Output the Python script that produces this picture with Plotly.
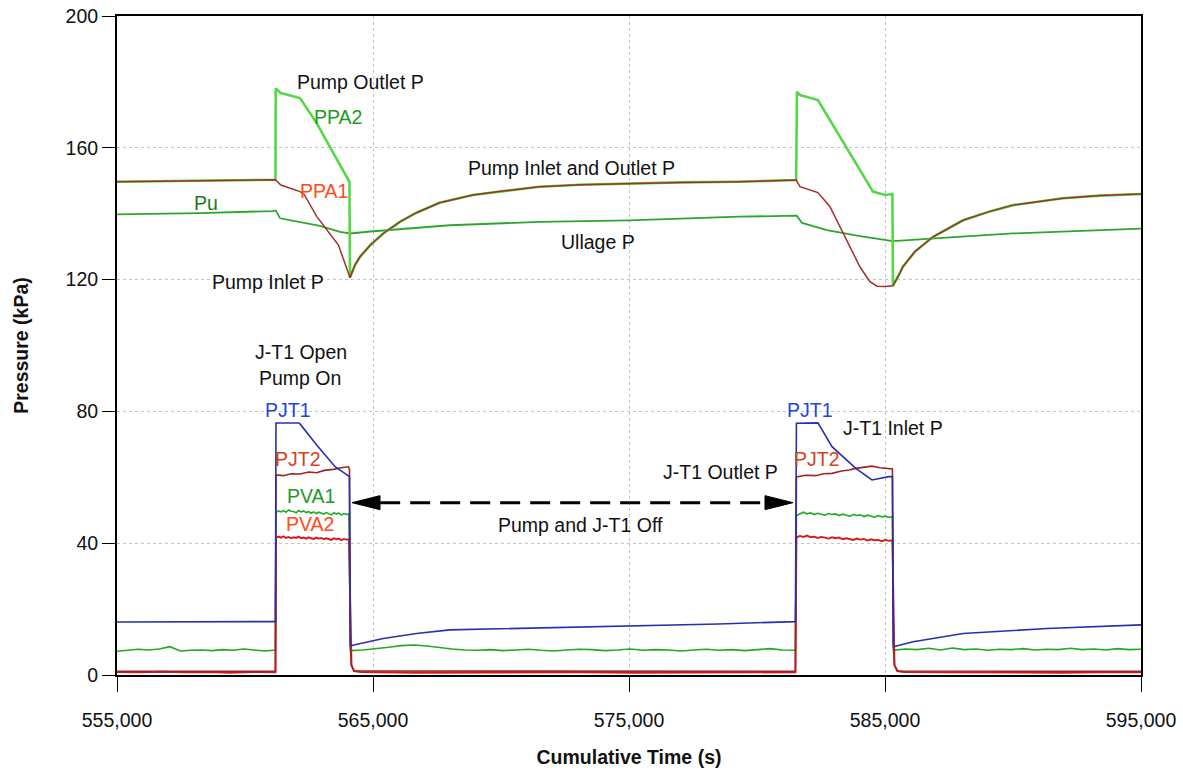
import numpy as np
import plotly.graph_objects as go

# ---------------------------------------------------------------------------
# Pressure records (kPa) against cumulative test time (s)
# ---------------------------------------------------------------------------

# Pump inlet / outlet pressures between pump runs (both gauges read alike)
pre_t = [555000, 557000, 559000, 561190]
pre_p = [149.7, 149.9, 150.1, 150.3]

rec1_t = [564300, 564500, 564900, 565400, 566050, 566700, 567600, 568900,
          570000, 571500, 573100, 574900, 577000, 579300, 581530]
rec1_p = [124.5, 127.0, 130.5, 134.0, 137.5, 140.3, 143.3, 145.7,
          146.8, 148.2, 148.8, 149.2, 149.5, 149.7, 150.2]

rec2_t = [585590, 585700, 586170, 586880, 588050, 589100, 590000, 591950,
          593400, 595000]
rec2_p = [122.0, 123.9, 128.5, 133.0, 138.0, 140.7, 142.6, 144.7,
          145.5, 146.0]

# PPA1 - pump inlet during the two runs
ppa1_run1_t = [561400, 562150, 562300, 562800, 563650, 564000, 564100]
ppa1_run1_p = [148.7, 146.7, 146.0, 139.2, 130.5, 122.9, 120.6]
ppa1_run2_t = [581680, 582380, 582850, 583240, 583630, 584020, 584410,
               584690, 585000, 585310]
ppa1_run2_p = [148.2, 146.4, 142.1, 136.0, 130.0, 123.9, 119.4,
               118.0, 117.9, 118.1]

# PPA2 - pump outlet during the two runs
ppa2_run1_t = [561200, 561400, 562150, 562800, 563300, 564080, 564100]
ppa2_run1_p = [178.0, 176.6, 175.1, 167.5, 160.5, 149.7, 120.6]
ppa2_run2_t = [581560, 581680, 582380, 583240, 584020, 584530, 585000,
               585290, 585310]
ppa2_run2_p = [177.0, 176.0, 174.5, 163.4, 153.3, 146.7, 145.7,
               146.0, 118.1]

# Pu - tank ullage pressure
pu_t = [555000, 558240, 561090, 561200, 561370, 562030, 562930, 563710,
        564100, 564900, 568000, 571500, 575000, 579300, 581550, 581760,
        582730, 584020, 585310, 587540, 590000, 595000]
pu_p = [139.8, 140.2, 140.8, 141.0, 138.6, 137.6, 136.3, 134.5,
        134.0, 134.6, 136.5, 137.5, 138.0, 139.1, 139.4, 137.2,
        135.0, 133.2, 131.7, 132.8, 134.0, 135.5]

# PJT1 - J-T1 inlet pressure
pjt1_t = [555000, 561190, 561210, 562100, 562150, 562800,
          563520, 564040, 564080, 564120, 564250, 565400, 566700, 568000,
          571500, 575000, 578500, 581500, 581540, 582380, 582930, 583860,
          584490, 585150, 585290, 585330, 586100, 588050, 591330, 595000]
pjt1_p = [16.1, 16.2, 76.5, 76.5, 76.2, 69.8,
          63.2, 60.5, 60.2, 8.8, 9.1, 11.1, 12.6, 13.7,
          14.3, 14.8, 15.5, 16.2, 76.4, 76.5, 69.3, 62.7,
          59.2, 60.2, 60.2, 8.6, 10.1, 12.6, 14.1, 15.2]

# PJT2 - J-T1 outlet pressure
pjt2_t = [555000, 561190, 561210, 561500, 561800, 562150, 562500, 562800,
          563100, 563450, 563750, 564040, 564080, 564110, 564150, 564250,
          581500, 581540, 581900, 582300, 582600, 582930, 583300, 583600,
          583860, 584200, 584490, 584800, 585150, 585290, 585320, 585370,
          585500, 595000]
pjt2_p = [1.1, 1.1, 60.7, 60.5, 61.1, 61.0, 61.6, 61.4,
          62.1, 62.4, 62.9, 63.2, 62.5, 10.0, 3.0, 1.2,
          1.1, 60.1, 60.6, 60.5, 61.1, 61.2, 61.9, 62.2,
          62.7, 63.0, 63.4, 62.9, 62.7, 62.5, 10.0, 3.0,
          1.2, 1.1]

# PVA1 - vent line pressure (noisy record)
pva1_pre = [7.2, 7.5, 7.8, 7.6, 7.9, 8.6, 7.3, 7.5, 7.6, 7.4, 7.7, 7.5,
            7.9, 7.6, 7.3, 7.6]
pva1_run1 = [49.3, 49.8, 49.5, 49.9, 49.4, 50.1, 49.7, 49.6, 49.2, 49.9,
             49.5, 49.8, 49.3, 49.6, 49.1, 49.5, 49.0, 49.4, 49.2, 48.8,
             49.3, 49.0, 48.6, 49.2, 48.9, 49.1, 48.6, 49.0, 48.7, 48.9]
pva1_off = [7.4, 7.6, 7.9, 8.4, 8.9, 9.1, 8.8, 8.3, 7.9, 7.6, 7.5, 7.7,
            7.4, 7.6, 7.8, 7.5, 7.3, 7.6, 7.8, 7.7, 7.4, 7.6, 7.9, 7.5,
            7.7, 7.6, 7.3, 7.6, 7.8, 7.5, 7.7, 7.4, 7.6, 8.0, 7.6, 7.5]
pva1_run2 = [48.4, 49.0, 49.4, 48.9, 49.2, 48.7, 49.1, 48.8, 48.5, 49.0,
             48.7, 48.9, 48.4, 48.8, 48.6, 48.2, 48.7, 48.4, 48.6, 48.1,
             48.5, 48.3, 47.9, 48.4, 48.0, 48.2, 47.8, 48.1]
pva1_post = [7.5, 7.9, 7.7, 8.1, 7.6, 8.2, 7.7, 7.9, 7.5, 7.8, 7.7, 8.0,
             7.6, 7.8, 7.7, 8.1, 7.7, 7.9, 7.6, 8.0, 7.7, 7.8]

# PVA2 - second vent line pressure (noisy record)
pva2_pre = [0.9, 0.8, 1.0, 0.8, 0.9, 0.7, 0.9, 0.8]
pva2_run1 = [41.6, 42.0, 41.7, 42.1, 41.6, 41.9, 41.5, 41.8, 41.6, 42.0,
             41.5, 41.7, 41.4, 41.8, 41.5, 41.3, 41.7, 41.4, 41.6, 41.2,
             41.5, 41.3, 41.0, 41.5, 41.2, 41.4, 40.9, 41.3, 41.1, 41.2]
pva2_off = [12.0, 3.0, 1.2, 0.9, 0.7, 0.8, 0.7, 0.8, 0.7, 0.8, 0.7, 0.8]
pva2_run2 = [41.8, 42.2, 41.9, 42.3, 41.8, 42.0, 41.6, 41.9, 41.7, 41.4,
             41.8, 41.5, 41.7, 41.2, 41.5, 41.3, 41.0, 41.4, 41.1, 41.3,
             40.8, 41.2, 40.9, 41.0, 40.6, 41.0, 40.7, 40.9]
pva2_post = [12.0, 3.0, 1.2, 0.9, 0.8, 0.7, 0.8, 0.7, 0.8, 0.8]

# Sampling windows for the noisy vent records
pva_windows = {
    "pre": (555000, 561190),
    "run1": (561210, 564060),
    "off": (564120, 581500),
    "run2": (581540, 585290),
    "post": (585330, 595000),
}

x_ticks = [555000, 565000, 575000, 585000, 595000]
y_ticks = [0, 40, 80, 120, 160, 200]


def stamps(window, samples):
    lo, hi = pva_windows[window]
    return list(np.linspace(lo, hi, len(samples)))


def off_stamps(window, samples):
    # first few samples of a decay are logged densely after shutdown
    lo, hi = pva_windows[window]
    head = [lo, lo + 40, lo + 150]
    rest = list(np.linspace(lo + 400, hi, len(samples) - 3))
    return head + rest


ppa1_t = pre_t + ppa1_run1_t + rec1_t + ppa1_run2_t + rec2_t
ppa1_p = pre_p + ppa1_run1_p + rec1_p + ppa1_run2_p + rec2_p
ppa2_t = pre_t + ppa2_run1_t + rec1_t + ppa2_run2_t + rec2_t
ppa2_p = pre_p + ppa2_run1_p + rec1_p + ppa2_run2_p + rec2_p

pva1_t = (stamps("pre", pva1_pre) + stamps("run1", pva1_run1)
          + stamps("off", pva1_off) + stamps("run2", pva1_run2)
          + stamps("post", pva1_post))
pva1_p = pva1_pre + pva1_run1 + pva1_off + pva1_run2 + pva1_post

pva2_t = (stamps("pre", pva2_pre) + stamps("run1", pva2_run1)
          + off_stamps("off", pva2_off) + stamps("run2", pva2_run2)
          + off_stamps("post", pva2_post))
pva2_p = pva2_pre + pva2_run1 + pva2_off + pva2_run2 + pva2_post

FONT = "Liberation Sans Narrow, Arial Narrow, Liberation Sans, Arial, sans-serif"

fig = go.Figure()


def add_line(t, p, color, width, name):
    fig.add_trace(go.Scatter(x=t, y=p, mode="lines", name=name,
                             line=dict(color=color, width=width),
                             hoverinfo="skip"))


add_line(pva1_t, pva1_p, "#22a822", 1.6, "PVA1")
add_line(pva2_t, pva2_p, "#d81818", 1.9, "PVA2")
add_line(pjt2_t, pjt2_p, "#a02424", 1.6, "PJT2")
add_line(pjt1_t, pjt1_p, "#2a2fb0", 1.6, "PJT1")
add_line(pu_t, pu_p, "#2ea62e", 1.8, "Pu")
add_line(ppa2_t, ppa2_p, "#55d845", 2.6, "PPA2")
add_line(ppa1_t, ppa1_p, "#a03028", 1.5, "PPA1")

# Text labels
labels = [
    ("Pump Outlet P", 564492, 180.0, "#111111"),
    ("PPA2", 563633, 169.3, "#1e9a1e"),
    ("PPA1", 563086, 146.9, "#ff4a1a"),
    ("Pu", 558477, 143.2, "#1a7a1a"),
    ("Pump Inlet P", 560898, 119.3, "#111111"),
    ("Pump Inlet and Outlet P", 572773, 153.9, "#111111"),
    ("Ullage P", 573789, 131.4, "#111111"),
    ("J-T1 Open", 562188, 98.0, "#111111"),
    ("Pump On", 562148, 90.1, "#111111"),
    ("PJT1", 561680, 80.4, "#2244dd"),
    ("PJT2", 562070, 65.6, "#d8401a"),
    ("PVA1", 562578, 54.3, "#1a9a2a"),
    ("PVA2", 562539, 45.8, "#ff4a1a"),
    ("PJT1", 582070, 80.4, "#2244dd"),
    ("J-T1 Inlet P", 585313, 75.0, "#111111"),
    ("PJT2", 582344, 65.6, "#d8401a"),
    ("J-T1 Outlet P", 578555, 61.6, "#111111"),
    ("Pump and J-T1 Off", 573086, 45.5, "#111111"),
]
for text, tx, py, col in labels:
    fig.add_annotation(x=tx, y=py, text=text, showarrow=False,
                       xref="x", yref="y",
                       font=dict(family=FONT, size=19.5, color=col))

# Pump-off interval: dashed double-headed arrow
arrow_left, arrow_right, arrow_level = 564180, 581406, 52.3
head_len = 1100
fig.add_shape(type="line", xref="x", yref="y",
              x0=arrow_left + head_len, x1=arrow_right - head_len,
              y0=arrow_level, y1=arrow_level,
              line=dict(color="black", width=3, dash="20px,10px"))
fig.add_shape(type="path", xref="x", yref="y",
              xsizemode="pixel", ysizemode="pixel",
              xanchor=arrow_left, yanchor=arrow_level,
              path="M0,0 L28,7 L28,-7 Z",
              fillcolor="black", line=dict(color="black", width=1))
fig.add_shape(type="path", xref="x", yref="y",
              xsizemode="pixel", ysizemode="pixel",
              xanchor=arrow_right, yanchor=arrow_level,
              path="M0,0 L-28,7 L-28,-7 Z",
              fillcolor="black", line=dict(color="black", width=1))

axis_common = dict(
    showline=True, linecolor="black", linewidth=2, mirror=True,
    ticks="outside", tickcolor="black", tickwidth=1,
    showgrid=True, gridcolor="#c4c4c4", gridwidth=1, griddash="dot",
    zeroline=False, automargin=False,
    tickfont=dict(family=FONT, size=19.5, color="#111111"),
)

fig.update_layout(
    width=1183, height=771,
    margin=dict(l=117, r=42, t=16, b=96),
    paper_bgcolor="white", plot_bgcolor="white",
    showlegend=False,
    xaxis=dict(
        range=[555000, 595000], tickvals=x_ticks,
        tickformat=",d", ticklen=15, ticklabelstandoff=12,
        title=dict(text="<b>Cumulative Time (s)</b>", standoff=20,
                   font=dict(family=FONT, size=19.5, color="#111111")),
        **axis_common,
    ),
    yaxis=dict(
        range=[0, 200], tickvals=y_ticks, ticklen=13,
        title=dict(text="<b>Pressure (kPa)</b>", standoff=32,
                   font=dict(family=FONT, size=19.5, color="#111111")),
        **axis_common,
    ),
)

fig.write_html("out.html")
